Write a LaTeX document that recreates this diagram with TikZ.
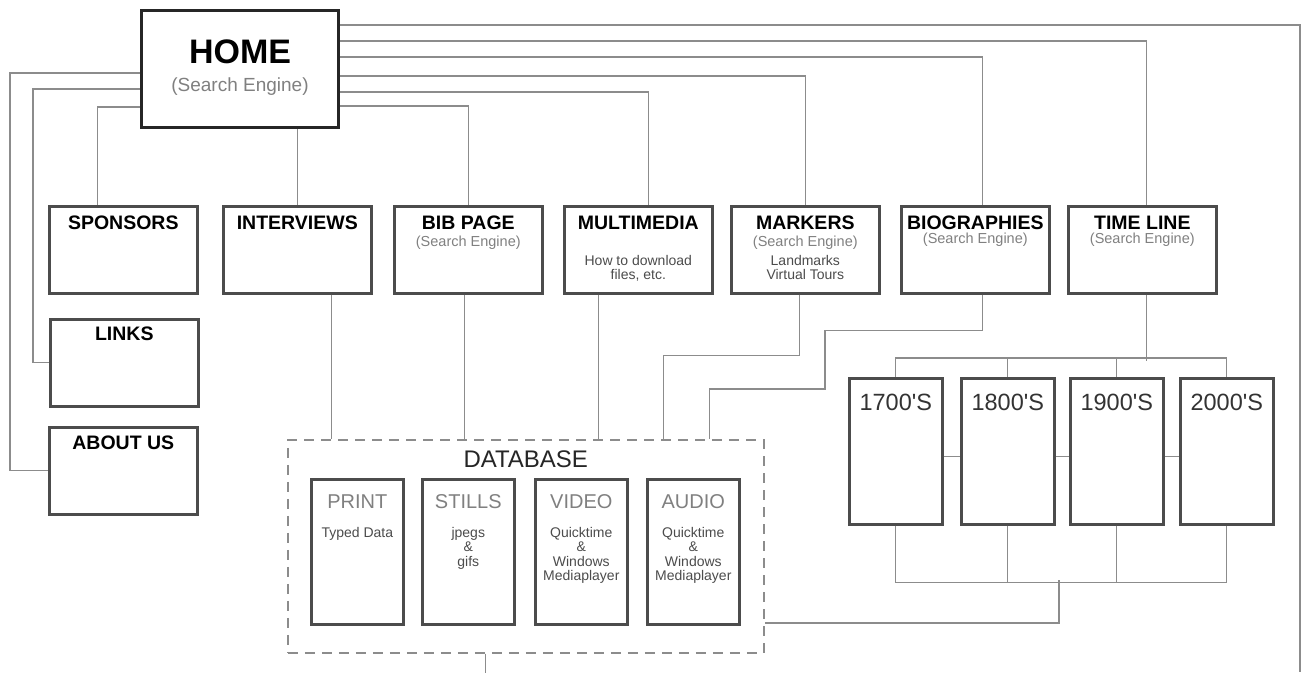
\documentclass[tikz,border=0pt]{standalone}
\usepackage{fontspec}
\setmainfont{Liberation Sans}
\begin{document}
\begin{tikzpicture}[
  x=1pt, y=-1pt,
  every node/.style = {inner sep=0pt},
  pagebox/.style    = {draw=black!70, line width=2.6pt, fill=white, anchor=north west},
  sitebox/.style    = {pagebox, minimum width=148pt, minimum height=87pt},
  mediabox/.style   = {pagebox, minimum width=92pt, minimum height=145pt},
  erabox/.style     = {pagebox, minimum width=93pt, minimum height=146pt},
  link/.style       = {draw=black!45, line width=1.3pt},
  boxtitle/.style   = {font=\fontsize{19.5}{21}\selectfont\bfseries},
  searchtag/.style  = {text=black!50, font=\fontsize{14.5}{16}\selectfont},
  boxnote/.style    = {text=black!70, font=\fontsize{14}{14.5}\selectfont, align=center, anchor=north},
  mediatitle/.style = {text=black!50, font=\fontsize{20}{22}\selectfont},
  eralabel/.style   = {text=black!80, font=\fontsize{23.5}{25}\selectfont},
]
\useasboundingbox (0,0) rectangle (1308,672);

% ── Home ────────────────────────────────────────────────────────────────────
\node[pagebox, draw=black!85, line width=3pt, minimum width=197pt, minimum height=117pt] (home) at (140,9) {};
\node[font=\fontsize{34}{36}\selectfont\bfseries] (home-t) at ([yshift=-43pt]home.north) {HOME};
\node[searchtag, font=\fontsize{19}{21}\selectfont] (home-s) at ([yshift=-78pt]home.north) {(Search Engine)};

% ── Section pages ───────────────────────────────────────────────────────────
\node[sitebox] (sponsors)   at (48,205)  {};
\node[sitebox] (interviews) at (222,205) {};
\node[sitebox] (bib)        at (393,205) {};
\node[sitebox] (multimedia) at (563,205) {};
\node[sitebox] (markers)    at (730,205) {};
\node[sitebox] (bio)        at (900,205) {};
\node[sitebox] (timeline)   at (1067,205) {};
\node[sitebox] (links)      at (49,318)  {};
\node[sitebox] (about)      at (48,426)  {};

\node[boxtitle] (sponsors-t)   at ([yshift=-18pt]sponsors.north)   {SPONSORS};
\node[boxtitle] (interviews-t) at ([yshift=-18pt]interviews.north) {INTERVIEWS};
\node[boxtitle] (bib-t)        at ([yshift=-18pt]bib.north)        {BIB PAGE};
\node[boxtitle] (multimedia-t) at ([yshift=-18pt]multimedia.north) {MULTIMEDIA};
\node[boxtitle] (markers-t)    at ([yshift=-18pt]markers.north)    {MARKERS};
\node[boxtitle] (bio-t)        at ([yshift=-18pt]bio.north)        {BIOGRAPHIES};
\node[boxtitle] (timeline-t)   at ([yshift=-18pt]timeline.north)   {TIME LINE};
\node[boxtitle] (links-t)      at ([yshift=-16pt]links.north)      {LINKS};
\node[boxtitle] (about-t)      at ([yshift=-17pt]about.north)      {ABOUT US};

\node[searchtag] (bib-s)      at ([yshift=-38pt]bib.north)      {(Search Engine)};
\node[searchtag] (markers-s)  at ([yshift=-38pt]markers.north)  {(Search Engine)};
\node[searchtag] (bio-s)      at ([yshift=-35pt]bio.north)      {(Search Engine)};
\node[searchtag] (timeline-s) at ([yshift=-35pt]timeline.north) {(Search Engine)};
\node[boxnote] (multimedia-n) at ([yshift=-50pt]multimedia.north) {How to download\\files, etc.};
\node[boxnote] (markers-n)    at ([yshift=-50pt]markers.north)    {Landmarks\\Virtual Tours};

% ── Database ────────────────────────────────────────────────────────────────
\node[pagebox, draw=black!45, line width=1.5pt, dash pattern=on 10pt off 7pt,
      minimum width=476pt, minimum height=213pt] (db) at (287,439) {};
\node[text=black!85, font=\fontsize{24}{26}\selectfont] (db-t) at ([yshift=-20pt]db.north) {DATABASE};

\node[mediabox] (print)  at (310,478) {};
\node[mediabox] (stills) at (421,478) {};
\node[mediabox] (video)  at (534,478) {};
\node[mediabox] (audio)  at (646,478) {};
\node[mediatitle] (print-t)  at ([yshift=-24pt]print.north)  {PRINT};
\node[mediatitle] (stills-t) at ([yshift=-24pt]stills.north) {STILLS};
\node[mediatitle] (video-t)  at ([yshift=-24pt]video.north)  {VIDEO};
\node[mediatitle] (audio-t)  at ([yshift=-24pt]audio.north)  {AUDIO};
\node[boxnote] (print-n)  at ([yshift=-49pt]print.north)  {Typed Data};
\node[boxnote] (stills-n) at ([yshift=-49pt]stills.north) {jpegs\\\&\\gifs};
\node[boxnote] (video-n)  at ([yshift=-49pt]video.north)  {Quicktime\\\&\\Windows\\Mediaplayer};
\node[boxnote] (audio-n)  at ([yshift=-49pt]audio.north)  {Quicktime\\\&\\Windows\\Mediaplayer};

% ── Time line eras ──────────────────────────────────────────────────────────
\foreach \era/\xloc in {1700/848, 1800/960, 1900/1069, 2000/1179} {
  \node[erabox] (c\era) at (\xloc,377) {};
  \node[eralabel] (c\era-t) at ([yshift=-25pt]c\era.north) {\era\textquotesingle S};
}

% ── Links from home ─────────────────────────────────────────────────────────
\coordinate (offpage) at (1300,672);
\draw[link] (home.east |- 0,25)  -| (offpage);
\draw[link] (home.east |- 0,41)  -| ([xshift=4pt]timeline.north);
\draw[link] (home.east |- 0,57)  -| ([xshift=7pt]bio.north);
\draw[link] (home.east |- 0,76)  -| (markers.north);
\draw[link] (home.east |- 0,92)  -| ([xshift=10pt]multimedia.north);
\draw[link] (home.east |- 0,106) -| (bib.north);
\draw[link] (home.south -| interviews.north) -- (interviews.north);
\draw[link] (home.west |- 0,107) -| ([xshift=-26pt]sponsors.north);
\draw[link] (home.west |- 0,89)  -| ([xshift=-16pt]links.west) -- (links.west);
\draw[link] (home.west |- 0,73)  -| ([xshift=-38pt]about.west) -- (about.west);

% ── Links into the database ─────────────────────────────────────────────────
\coordinate (iv-out) at ([xshift=34pt]interviews.south);
\coordinate (bib-out) at ([xshift=-4pt]bib.south);
\coordinate (mm-out) at ([xshift=-40pt]multimedia.south);
\draw[link] (iv-out)  -- (iv-out |- db.north);
\draw[link] (bib-out) -- (bib-out |- db.north);
\draw[link] (mm-out)  -- (mm-out |- db.north);
\draw[link] ([xshift=-6pt]markers.south) -- ++(0,61) -| ([xshift=138pt]db.north);
\draw[link] ([xshift=7pt]bio.south) -- ++(0,36) -| (825,389) -| ([xshift=184pt]db.north);
\draw[link] ([xshift=-40pt]db.south) -- ++(0,25);

% ── Era links ───────────────────────────────────────────────────────────────
\draw[link] ([xshift=4pt]timeline.south) -- ++(0,66);
\draw[link] (c1700.north) -- ++(0,-19) -| (c2000.north);
\draw[link] (c1800.north) -- ++(0,-19);
\draw[link] (c1900.north) -- ++(0,-19);
\draw[link] ([yshift=-5pt]c1700.east) -- ([yshift=-5pt]c1800.west);
\draw[link] ([yshift=-5pt]c1800.east) -- ([yshift=-5pt]c1900.west);
\draw[link] ([yshift=-5pt]c1900.east) -- ([yshift=-5pt]c2000.west);
\draw[link] (c1700.south) -- ++(0,57) -| (c2000.south);
\draw[link] (c1800.south) -- ++(0,57);
\draw[link] (c1900.south) -- ++(0,57);
\coordinate (era-out) at (1059,580);
\draw[link] (era-out) |- (db.east |- 0,623);

\end{tikzpicture}
\end{document}
